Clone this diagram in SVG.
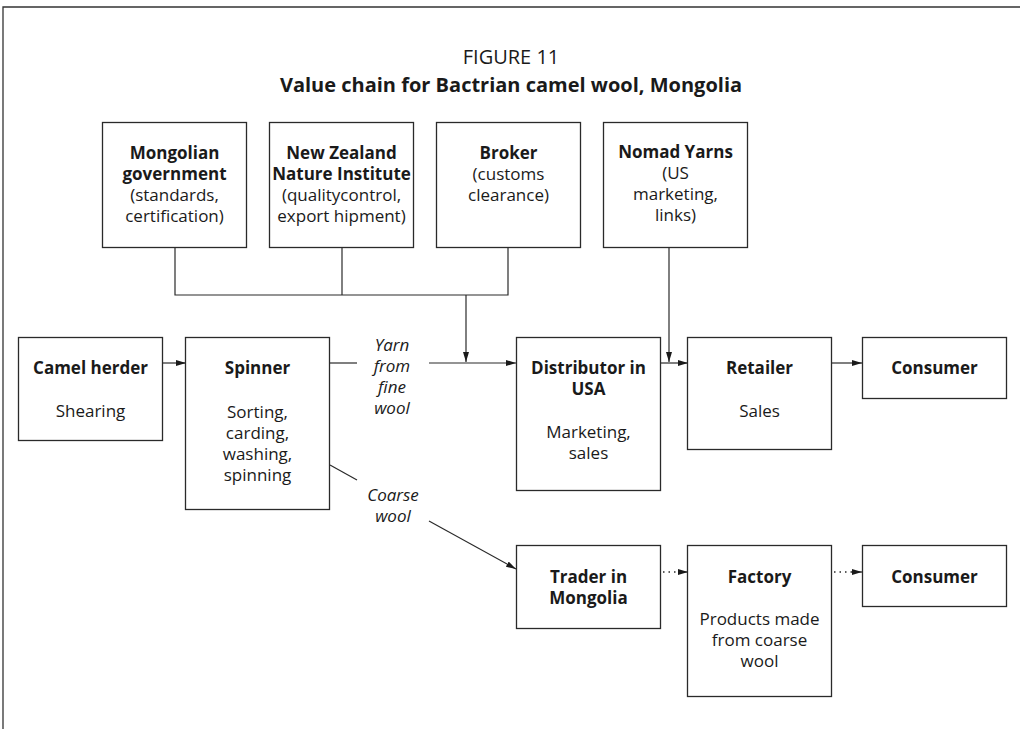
<svg xmlns="http://www.w3.org/2000/svg" width="1020" height="729" viewBox="0 0 1020 729">
<style>
  text { font-family: "Open Sans", "Noto Sans", "Liberation Sans", sans-serif; font-size: 17px; fill: #1a1a1a; text-anchor: middle; }
  .b { font-weight: bold; }
  .i { font-style: italic; }
  .t { font-size: 20px; }
  .box { fill: #ffffff; stroke: #2a2a2a; stroke-width: 1.3; }
  .ln { fill: none; stroke: #2a2a2a; stroke-width: 1.2; }
  .dot { fill: none; stroke: #2a2a2a; stroke-width: 1.3; stroke-dasharray: 1.5 4; }
  .frame { fill: none; stroke: #333; stroke-width: 1.3; }
</style>
<defs>
  <marker id="ah" viewBox="0 0 10 6" refX="10" refY="3" markerWidth="10" markerHeight="6" markerUnits="userSpaceOnUse" orient="auto">
    <path d="M0,0 L10,3 L0,6 Z" fill="#1a1a1a"/>
  </marker>
</defs>
<rect width="1020" height="729" fill="#ffffff"/>
<path class="frame" d="M3,729 V7 H1020"/>

<g id="title">
  <text class="t" x="511" y="64">FIGURE 11</text>
  <text class="t b" x="511" y="92">Value chain for Bactrian camel wool, Mongolia</text>
</g>

<g id="connectors">
  <path class="ln" d="M175,247 V295 H508 V247"/>
  <path class="ln" d="M342,247 V295"/>
  <path class="ln" d="M466,295 V362" marker-end="url(#ah)"/>
  <path class="ln" d="M669,247 V362" marker-end="url(#ah)"/>
  <path class="ln" d="M163,363 H186" marker-end="url(#ah)"/>
  <path class="ln" d="M330,363 H357"/>
  <path class="ln" d="M429,363 H516" marker-end="url(#ah)"/>
  <path class="ln" d="M661,363 H688" marker-end="url(#ah)"/>
  <path class="ln" d="M832,363 H862" marker-end="url(#ah)"/>
  <path class="ln" d="M330,465 L357,480"/>
  <path class="ln" d="M429,521 L516,569" marker-end="url(#ah)"/>
  <path class="dot" d="M663,572 H679"/>
  <path class="ln" d="M678,572 H688" marker-end="url(#ah)"/>
  <path class="dot" d="M834,572 H853"/>
  <path class="ln" d="M852,572 H862" marker-end="url(#ah)"/>
  <g id="edge-labels">
    <text class="i" x="392" y="351">Yarn</text>
    <text class="i" x="392" y="372">from</text>
    <text class="i" x="392" y="393">fine</text>
    <text class="i" x="392" y="414">wool</text>
    <text class="i" x="393" y="501">Coarse</text>
    <text class="i" x="393" y="522">wool</text>
  </g>
</g>

<g id="mongolian-government">
  <rect class="box" x="102.5" y="122.5" width="144" height="125"/>
  <text class="b" x="174.5" y="159">Mongolian</text>
  <text class="b" x="174.5" y="180">government</text>
  <text x="174.5" y="201">(standards,</text>
  <text x="174.5" y="222">certification)</text>
</g>

<g id="nz-nature-institute">
  <rect class="box" x="269.5" y="122.5" width="144" height="125"/>
  <text class="b" x="341.5" y="159">New Zealand</text>
  <text class="b" x="341.5" y="180">Nature Institute</text>
  <text x="341.5" y="201">(qualitycontrol,</text>
  <text x="341.5" y="222">export hipment)</text>
</g>

<g id="broker">
  <rect class="box" x="436.5" y="122.5" width="144" height="125"/>
  <text class="b" x="508.5" y="159">Broker</text>
  <text x="508.5" y="180">(customs</text>
  <text x="508.5" y="201">clearance)</text>
</g>

<g id="nomad-yarns">
  <rect class="box" x="603.5" y="122.5" width="144" height="125"/>
  <text class="b" x="675.5" y="158">Nomad Yarns</text>
  <text x="675.5" y="179">(US</text>
  <text x="675.5" y="200">marketing,</text>
  <text x="675.5" y="221">links)</text>
</g>

<g id="camel-herder">
  <rect class="box" x="18.5" y="337.5" width="144" height="103"/>
  <text class="b" x="90.5" y="374">Camel herder</text>
  <text x="90.5" y="417">Shearing</text>
</g>

<g id="spinner">
  <rect class="box" x="185.5" y="337.5" width="144" height="172"/>
  <text class="b" x="257.5" y="374">Spinner</text>
  <text x="257.5" y="417.5">Sorting,</text>
  <text x="257.5" y="438.5">carding,</text>
  <text x="257.5" y="459.5">washing,</text>
  <text x="257.5" y="480.5">spinning</text>
</g>

<g id="distributor">
  <rect class="box" x="516.5" y="337.5" width="144" height="153"/>
  <text class="b" x="588.5" y="374">Distributor in</text>
  <text class="b" x="588.5" y="395">USA</text>
  <text x="588.5" y="437.5">Marketing,</text>
  <text x="588.5" y="458.5">sales</text>
</g>

<g id="retailer">
  <rect class="box" x="687.5" y="337.5" width="144" height="112"/>
  <text class="b" x="759.5" y="374">Retailer</text>
  <text x="759.5" y="417">Sales</text>
</g>

<g id="consumer-1">
  <rect class="box" x="862.5" y="337.5" width="144" height="61"/>
  <text class="b" x="934.5" y="374">Consumer</text>
</g>

<g id="trader">
  <rect class="box" x="516.5" y="545.5" width="144" height="83"/>
  <text class="b" x="588.5" y="583">Trader in</text>
  <text class="b" x="588.5" y="604">Mongolia</text>
</g>

<g id="factory">
  <rect class="box" x="687.5" y="545.5" width="144" height="151"/>
  <text class="b" x="759.5" y="583">Factory</text>
  <text x="759.5" y="624.5">Products made</text>
  <text x="759.5" y="645.5">from coarse</text>
  <text x="759.5" y="666.5">wool</text>
</g>

<g id="consumer-2">
  <rect class="box" x="862.5" y="545.5" width="144" height="61"/>
  <text class="b" x="934.5" y="583">Consumer</text>
</g>
</svg>
